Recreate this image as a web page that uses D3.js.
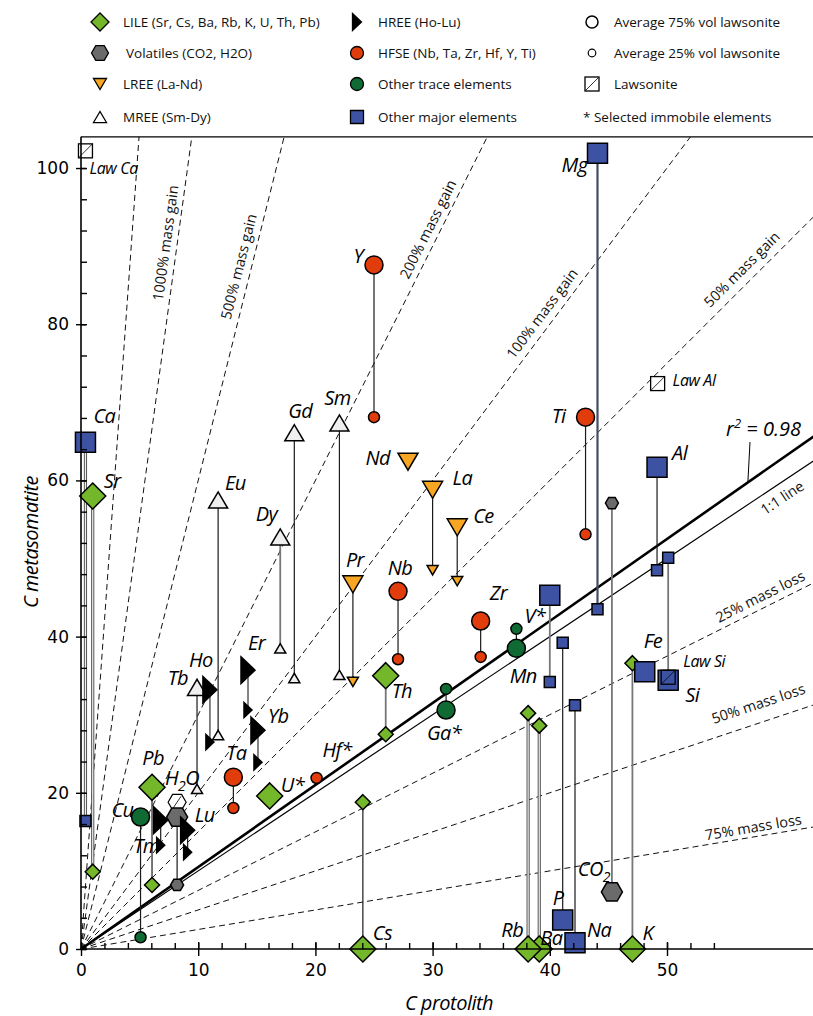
<!DOCTYPE html>
<html><head><meta charset="utf-8">
<script src="https://cdn.jsdelivr.net/npm/d3@7"></script>
<style>
body{margin:0;background:#fff;}
svg{display:block;}
</style></head><body>
<svg id="chart" width="813" height="1016"></svg>
<script>
// ---- Data: element concentrations, protolith vs. metasomatite (scaled) ----
const elements = ["Sr","Cs","Ba","Rb","K","U*","Th","Pb",
  "CO2","H2O",
  "La","Ce","Pr","Nd",
  "Sm","Eu","Gd","Tb","Dy",
  "Ho","Er","Tm","Yb","Lu",
  "Nb","Ta","Zr","Hf*","Y","Ti",
  "Cu","Ga*","V*",
  "Ca","Mg","Al","Si","Fe","Mn","P","Na"];
const groups = ["LILE","LILE","LILE","LILE","LILE","LILE","LILE","LILE",
  "VOL","VOL",
  "LREE","LREE","LREE","LREE",
  "MREE","MREE","MREE","MREE","MREE",
  "HREE","HREE","HREE","HREE","HREE",
  "HFSE","HFSE","HFSE","HFSE","HFSE","HFSE",
  "TRACE","TRACE","TRACE",
  "MAJOR","MAJOR","MAJOR","MAJOR","MAJOR","MAJOR","MAJOR","MAJOR"];
const cProtolith = [1.0,24.05,39.1,38.15,47.05,16.1,26.0,6.06,
  45.3,8.2,
  30.0,32.1,23.2,27.9,
  22.05,11.7,18.2,9.9,17.0,
  11.0,14.25,6.8,15.1,9.1,
  27.05,13.0,34.1,20.1,25.0,43.05,
  5.08,31.15,37.15,
  0.38,44.07,49.15,50.1,48.1,40.0,41.1,42.15];
// average metasomatite with 75 % vol lawsonite (large symbols)
const cMeta75 = [58.0,0,0,0,0,19.6,35.0,20.7,
  7.3,16.9,
  58.8,54.0,46.7,62.4,
  67.35,57.5,66.1,33.5,52.75,
  33.2,35.7,16.5,28.0,15.2,
  45.8,22.0,42.0,null,87.6,68.1,
  16.9,30.6,38.5,
  64.9,101.9,61.7,34.4,35.5,45.3,3.7,0.8];
// average metasomatite with 25 % vol lawsonite (small symbols)
const cMeta25 = [9.9,18.8,28.6,30.2,36.6,null,27.5,8.2,
  57.1,8.2,
  48.5,47.1,34.2,62.1,
  35.1,27.4,34.7,20.5,38.5,
  26.5,30.6,13.3,23.9,12.4,
  37.1,18.05,37.4,21.9,68.1,53.1,
  1.5,33.3,41.0,
  16.4,43.5,48.5,50.1,null,34.2,39.2,31.2];

// Lawsonite composition
const lawLabels = ["Law Ca","Law Al","Law Si"];
const lawX = [0.38,49.2,50.1];
const lawY = [102.2,72.4,34.8];
const lawH2O = [8.2,18.8];

// Reference lines through the origin
const isoconSlope = 1.05;
const isoconR2 = "0.98";
const massLabels = ["","1000% mass gain","500% mass gain","200% mass gain","100% mass gain","50% mass gain","25% mass loss","50% mass loss","75% mass loss"];
const massSlopes = [21,11,6,3,2,1.5,0.75,0.5,0.25];

// Axis ticks
const xTicks = [0,10,20,30,40,50];
const yTicks = [0,20,40,60,80,100];

// Legend
const legendCol1 = ["LILE (Sr, Cs, Ba, Rb, K, U, Th, Pb)","Volatiles (CO2, H2O)","LREE (La-Nd)","MREE (Sm-Dy)"];
const legendCol2 = ["HREE (Ho-Lu)","HFSE (Nb, Ta, Zr, Hf, Y, Ti)","Other trace elements","Other major elements"];
const legendCol3 = ["Average 75% vol lawsonite","Average 25% vol lawsonite","Lawsonite","* Selected immobile elements"];

// ---- Styling ----
const groupStyle = {
  LILE:{shape:"diamond", fill:"#74b72a"},
  VOL:{shape:"hex", fill:"#6b6b6b"},
  LREE:{shape:"triDown", fill:"#f6a623"},
  MREE:{shape:"triUp", fill:"#efefef"},
  HREE:{shape:"triRight", fill:"#000"},
  HFSE:{shape:"circle", fill:"#e03c0c"},
  TRACE:{shape:"circle", fill:"#0f6b33"},
  MAJOR:{shape:"square", fill:"#3e52a3"}
};
const bigSize = {diamond:13, hex:10.5, triDown:10, triUp:9.5, triRight:7, circle:9, square:10};
const smallSize = {diamond:7.5, hex:6.5, triDown:5.5, triUp:5.5, triRight:4, circle:5.5, square:5.5};

function shapePath(shape, s){
  switch(shape){
    case "diamond": return `M0,${-s}L${s},0L0,${s}L${-s},0Z`;
    case "square": return `M${-s},${-s}H${s}V${s}H${-s}Z`;
    case "triDown": { const h=s*0.85; return `M${-s},${-h}L${s},${-h}L0,${h}Z`; }
    case "triUp": { const h=s*0.85; return `M${-s},${h}L${s},${h}L0,${-h}Z`; }
    case "triRight": { const h=s*1.9; return `M${-s},${-h}L${s},0L${-s},${h}Z`; }
    case "hex": { const h=s*0.87; return `M${-s},0L${-s/2},${-h}L${s/2},${-h}L${s},0L${s/2},${h}L${-s/2},${h}Z`; }
    case "circle": return d3.arc()({innerRadius:0,outerRadius:s,startAngle:0,endAngle:2*Math.PI});
  }
}

// connector line style by element
const lineStyle = {
  Sr:"double", Ca:"double", Rb:"double", Ba:"double",
  K:"grey", CO2:"grey", Si:"grey", Mn:"grey", Th:"grey", Ho:"grey", Er:"grey", Yb:"grey", Dy:"grey",
  Mg:"slate"
};

// label placement relative to the large symbol [dx, dy, anchor]
const labelPos = {
  Sr:[11,-8,"start"], Cs:[10,-9,"start"], Ba:[1,-4,"start"], Rb:[-5,-12,"end"], K:[10,-9,"start"],
  "U*":[11,-4,"start"], Th:[6,22,"start"], Pb:[1,-22,"middle"],
  CO2:[-2,-16,"end"], H2O:[-12,-32,"start"],
  La:[20,-5,"start"], Ce:[16,-4,"start"], Pr:[2,-17,"middle"], Nd:[-18,3,"end"],
  Sm:[-2,-18,"middle"], Eu:[7,-10,"start"], Gd:[6,-15,"middle"], Tb:[-9,-2,"end"], Dy:[-3,-16,"end"],
  Ho:[-9,-23,"middle"], Er:[0,-20,"start"], Tm:[-1,33,"end"], Yb:[10,-7,"start"], Lu:[7,-8,"start"],
  Nb:[2,-16,"middle"], Ta:[3,-17,"middle"], Zr:[9,-21,"start"], "Hf*":[6,-21,"start"], Y:[-11,-2,"end"], Ti:[-20,6,"end"],
  Cu:[-7,0,"end"], "Ga*":[-2,30,"middle"], "V*":[8,-25,"start"],
  Ca:[8,-19,"start"], Mg:[-10,19,"end"], Al:[15,-7,"start"], Si:[17,22,"start"], Fe:[-1,-24,"start"],
  Mn:[-13,88,"end"], P:[-10,-15,"start"], Na:[12,-6,"start"]
};
const lawLabelPos = [[4,23],[15,2],[15,-10]];

// ---- Scales ----
const svg = d3.select("#chart");
const x = d3.scaleLinear().domain([0, 62.5]).range([81, 813.5]);
const y = d3.scaleLinear().domain([0, 104]).range([949, 136.8]);

svg.append("defs").append("clipPath").attr("id","plotClip")
  .append("rect").attr("x",81).attr("y",y(104)).attr("width",733).attr("height",949-y(104));

const plot = svg.append("g").attr("clip-path","url(#plotClip)");

// mass change reference lines
const xMax = 62.5;
plot.selectAll("line.mass").data(massSlopes).join("line")
  .attr("class","mass")
  .attr("x1",x(0)).attr("y1",y(0))
  .attr("x2",s => x(Math.min(xMax, 104/s))).attr("y2",s => y(Math.min(xMax*s,104)))
  .attr("stroke","#111").attr("stroke-width",1).attr("stroke-dasharray","6,4");

// 1:1 line and isocon
plot.append("line").attr("x1",x(0)).attr("y1",y(0)).attr("x2",x(xMax)).attr("y2",y(xMax))
  .attr("stroke","#000").attr("stroke-width",1.2);
plot.append("line").attr("x1",x(0)).attr("y1",y(0)).attr("x2",x(xMax)).attr("y2",y(xMax*isoconSlope))
  .attr("stroke","#000").attr("stroke-width",2.6);

// rotated labels along reference lines
const kx = x(1)-x(0), ky = y(0)-y(1);
function lineLabel(text, slope, xAlong, offset){
  const th = Math.atan(slope*ky/kx);
  const px = x(xAlong), py = y(slope*xAlong);
  const cx = px - offset*Math.sin(th), cy = py - offset*Math.cos(th);
  svg.append("text").attr("transform",`translate(${cx},${cy}) rotate(${-th*180/Math.PI})`)
    .attr("text-anchor","middle").attr("dominant-baseline","central")
    .attr("font-family","'Open Sans', sans-serif").attr("font-size",14.5).attr("fill","#111")
    .text(text);
}
const massLabelAlong = [null,8.2,14.5,30.5,40.2,57.2,58.4,58.3,57.5];
const massLabelOffset = [0,12,13,12,13,14,12,19,10];
massLabels.forEach((t,i)=>{ if(t) lineLabel(t, massSlopes[i], massLabelAlong[i], massLabelOffset[i]); });
lineLabel("1:1 line", 1, 59.2, -13);

// r² annotation
const r2 = svg.append("text").attr("x",726).attr("y",436)
  .attr("font-family","'Open Sans', sans-serif").attr("font-style","italic").attr("font-size",20);
r2.append("tspan").text("r");
r2.append("tspan").attr("dy",-8).attr("font-size",13).text("2");
r2.append("tspan").attr("dy",8).text(" = " + isoconR2);
svg.append("line").attr("x1",750).attr("y1",442).attr("x2",x(56.9)).attr("y2",y(56.9*isoconSlope))
  .attr("stroke","#000").attr("stroke-width",1);

// ---- element records ----
const recs = elements.map((e,i)=>({name:e, group:groups[i], cx:cProtolith[i], big:cMeta75[i], small:cMeta25[i]}));

// connectors between 75 % and 25 % averages
const conn = svg.append("g");
recs.filter(d => d.big!==null && d.small!==null).forEach(d=>{
  const st = lineStyle[d.name] || "black";
  const X = x(d.cx), Y1 = y(d.big), Y2 = y(d.small);
  if(st==="double"){
    conn.append("line").attr("x1",X).attr("x2",X).attr("y1",Y1).attr("y2",Y2).attr("stroke","#555").attr("stroke-width",3.2);
    conn.append("line").attr("x1",X).attr("x2",X).attr("y1",Y1).attr("y2",Y2).attr("stroke","#eee").attr("stroke-width",1.2);
  } else {
    const col = st==="grey" ? "#777" : st==="slate" ? "#444b63" : "#1a1a1a";
    const w = st==="grey" ? 1.8 : st==="slate" ? 2.2 : 1.2;
    conn.append("line").attr("x1",X).attr("x2",X).attr("y1",Y1).attr("y2",Y2).attr("stroke",col).attr("stroke-width",w);
  }
});

// lawsonite H2O (hatched hexagon)
const lh = svg.append("g").attr("transform",`translate(${x(lawH2O[0])},${y(lawH2O[1])})`);
lh.append("path").attr("d",shapePath("hex",9)).attr("fill","#fff").attr("stroke","#000").attr("stroke-width",1.2);
lh.append("line").attr("x1",-4).attr("y1",6).attr("x2",4).attr("y2",-6).attr("stroke","#000").attr("stroke-width",0.8);

const markers = svg.append("g");
function drawMarker(g, d, val, sizeMap){
  const st = groupStyle[d.group];
  g.append("path").attr("transform",`translate(${x(d.cx)},${y(val)})`)
    .attr("d",shapePath(st.shape, sizeMap[st.shape]))
    .attr("fill",st.fill).attr("stroke","#000").attr("stroke-width",1.5).attr("stroke-linejoin","miter");
}
const order = ["MAJOR","LILE","MREE","LREE","HFSE","TRACE","VOL","HREE"];
order.forEach(gr=>{
  recs.filter(d=>d.group===gr && d.small!==null).forEach(d=>drawMarker(markers,d,d.small,smallSize));
});
order.forEach(gr=>{
  recs.filter(d=>d.group===gr && d.big!==null).forEach(d=>drawMarker(markers,d,d.big,bigSize));
});

// lawsonite boxes
lawX.forEach((lx,i)=>{
  const g = svg.append("g").attr("transform",`translate(${x(lx)},${y(lawY[i])})`);
  g.append("rect").attr("x",-7).attr("y",-7).attr("width",14).attr("height",14)
    .attr("fill","none").attr("stroke","#000").attr("stroke-width",1.3);
  g.append("line").attr("x1",-7).attr("y1",7).attr("x2",7).attr("y2",-7).attr("stroke","#000").attr("stroke-width",0.8);
  svg.append("text").attr("x",x(lx)+lawLabelPos[i][0]).attr("y",y(lawY[i])+lawLabelPos[i][1])
    .attr("font-family","'Open Sans', sans-serif").attr("font-style","italic").attr("font-size",16)
    .attr("letter-spacing",-0.4).text(lawLabels[i]);
});

// element labels (digits after the symbol are set as subscripts)
const labels = svg.append("g").attr("font-family","'Open Sans', sans-serif").attr("font-style","italic")
  .attr("font-size",20).attr("letter-spacing",-0.6);
recs.forEach(d=>{
  const p = labelPos[d.name];
  const base = d.big!==null ? d.big : d.small;
  const t = labels.append("text").attr("x",x(d.cx)+p[0]).attr("y",y(base)+p[1]).attr("text-anchor",p[2]);
  const m = d.name.match(/^([A-Za-z]+?)(\d)(.*)$/);
  if(m){
    t.append("tspan").text(m[1]);
    t.append("tspan").attr("dy",6).attr("font-size",14).text(m[2]);
    if(m[3]) t.append("tspan").attr("dy",-6).text(m[3]);
  } else t.text(d.name);
});

// ---- Axes ----
const fr = svg.append("g");
fr.append("line").attr("x1",81).attr("x2",813).attr("y1",y(104)).attr("y2",y(104)).attr("stroke","#000").attr("stroke-width",1.3);
fr.append("line").attr("x1",81).attr("x2",81).attr("y1",y(104)).attr("y2",949).attr("stroke","#000").attr("stroke-width",1.6);
fr.append("line").attr("x1",81).attr("x2",813).attr("y1",949).attr("y2",949).attr("stroke","#000").attr("stroke-width",1.6);

function styleAxis(g){
  g.select(".domain").remove();
  g.selectAll("line").attr("stroke","#000").attr("stroke-width",1.4);
  g.selectAll("text").attr("font-family","'DejaVu Sans', sans-serif").attr("font-size",17).attr("fill","#000");
}
svg.append("g").attr("transform","translate(0,949)")
  .call(d3.axisBottom(x).tickValues(d3.range(0,55,2)).tickSize(-6).tickFormat("")).call(styleAxis);
svg.append("g").attr("transform","translate(0,949)")
  .call(d3.axisBottom(x).tickValues(xTicks).tickSize(-7).tickFormat("")).call(styleAxis);
svg.append("g").attr("transform","translate(0,949)")
  .call(d3.axisBottom(x).tickValues(xTicks).tickSize(7).tickPadding(8)).call(styleAxis);

svg.append("g").attr("transform","translate(81,0)")
  .call(d3.axisLeft(y).tickValues(d3.range(0,104,4)).tickSize(-6).tickFormat("")).call(styleAxis);
svg.append("g").attr("transform","translate(81,0)")
  .call(d3.axisLeft(y).tickValues(yTicks).tickSize(-5).tickFormat("")).call(styleAxis);
svg.append("g").attr("transform","translate(81,0)")
  .call(d3.axisLeft(y).tickValues(yTicks).tickSize(5).tickPadding(7)).call(styleAxis);

svg.append("text").attr("x",449).attr("y",1010).attr("text-anchor","middle")
  .attr("font-family","'Open Sans', sans-serif").attr("font-style","italic").attr("font-size",20).attr("letter-spacing",-0.5)
  .text("C protolith");
svg.append("text").attr("transform","translate(38,542) rotate(-90)").attr("text-anchor","middle")
  .attr("font-family","'Open Sans', sans-serif").attr("font-style","italic").attr("font-size",20).attr("letter-spacing",-0.5)
  .text("C metasomatite");

// ---- Legend ----
const lg = svg.append("g").attr("font-family","'Open Sans', sans-serif").attr("font-size",13.5).attr("fill","#111");
const rowY = [22,53,84,117];
const col1Shapes = [["diamond","#74b72a",9],["hex","#6b6b6b",8.5],["triDown","#f6a623",6.5],["triUp","#fff",6.5]];
const col2Shapes = [["triRight","#000",4.5],["circle","#e03c0c",6.5],["circle","#0f6b33",6.5],["square","#3e52a3",6.5]];
legendCol1.forEach((t,i)=>{
  lg.append("path").attr("transform",`translate(100,${rowY[i]})`).attr("d",shapePath(col1Shapes[i][0],col1Shapes[i][2]))
    .attr("fill",col1Shapes[i][1]).attr("stroke","#000").attr("stroke-width",1.3);
  lg.append("text").attr("x",i===1?126:123).attr("y",rowY[i]).attr("dominant-baseline","central").text(t);
});
legendCol2.forEach((t,i)=>{
  lg.append("path").attr("transform",`translate(357,${rowY[i]})`).attr("d",shapePath(col2Shapes[i][0],col2Shapes[i][2]))
    .attr("fill",col2Shapes[i][1]).attr("stroke","#000").attr("stroke-width",1.3);
  lg.append("text").attr("x",378).attr("y",rowY[i]).attr("dominant-baseline","central").text(t);
});
legendCol3.forEach((t,i)=>{
  if(i===0) lg.append("circle").attr("cx",592).attr("cy",rowY[i]).attr("r",6).attr("fill","#fff").attr("stroke","#000").attr("stroke-width",1.5);
  if(i===1) lg.append("circle").attr("cx",592).attr("cy",rowY[i]).attr("r",3.8).attr("fill","#fff").attr("stroke","#000").attr("stroke-width",1.2);
  if(i===2){
    lg.append("rect").attr("x",585).attr("y",rowY[i]-7).attr("width",14).attr("height",14).attr("fill","#fff").attr("stroke","#000").attr("stroke-width",1.3);
    lg.append("line").attr("x1",585).attr("y1",rowY[i]+7).attr("x2",599).attr("y2",rowY[i]-7).attr("stroke","#000").attr("stroke-width",0.8);
  }
  lg.append("text").attr("x",i===3?583:614).attr("y",rowY[i]).attr("dominant-baseline","central").text(t);
});
</script>
</body></html>
